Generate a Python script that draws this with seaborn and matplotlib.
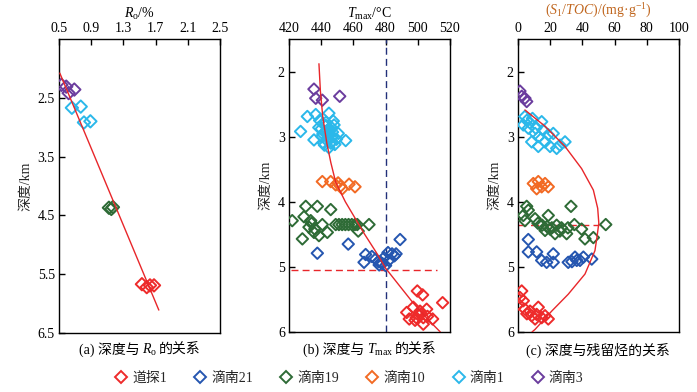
import numpy as np
import pandas as pd
import matplotlib
matplotlib.use("Agg")
import matplotlib.pyplot as plt
from matplotlib.lines import Line2D
from matplotlib.offsetbox import TextArea, HPacker, AnnotationBbox
import seaborn as sns

# ---------------- data ----------------
wells = ["道探1", "滴南21", "滴南19", "滴南10", "滴南1", "滴南3"]
well_colors = ["#ee2b2b", "#2556b0", "#2e6b36", "#f26a24", "#2bb8ea", "#6b3d9e"]

# panel a: Ro (%) vs depth (km)
a_well = ["滴南3"] * 4 + ["滴南1"] * 4 + ["滴南19"] * 3 + ["道探1"] * 4
a_ro = [0.53, 0.59, 0.62, 0.69, 0.66, 0.77, 0.81, 0.89, 1.12, 1.15, 1.17, 1.53, 1.59, 1.63, 1.68]
a_depth = [2.28, 2.31, 2.42, 2.36, 2.67, 2.65, 2.92, 2.90, 4.37, 4.39, 4.36, 5.67, 5.72, 5.69, 5.69]
a_fit_ro = [0.51, 1.74]
a_fit_depth = [2.08, 6.11]

# panel b: Tmax (°C) vs depth (km)
b_purple_t = [435.5, 436.6, 440.7, 451.5]
b_purple_d = [2.27, 2.41, 2.44, 2.38]
b_cyan_t = [431.4, 427.2, 435.5, 436.6, 444.8, 455.2, 450.6, 439.0, 441.0, 443.0, 446.0, 448.0,
            440.0, 442.5, 445.0, 447.0, 444.0, 446.5, 441.5, 448.5, 449.5, 438.5, 443.5, 445.5,
            444.8, 442.0, 447.5, 440.5, 443.0, 445.0, 441.0, 447.0, 444.0, 446.0]
b_cyan_d = [2.69, 2.92, 3.05, 2.66, 2.64, 3.06, 2.95, 2.75, 2.80, 2.78, 2.85, 2.82,
            2.88, 2.92, 2.95, 3.00, 3.02, 3.08, 3.10, 3.12, 3.04, 2.86, 2.97, 2.90,
            3.17, 3.13, 2.76, 3.00, 2.83, 2.88, 2.96, 2.93, 3.07, 3.10]
b_orange_t = [440.7, 445.9, 449.0, 452.0, 457.3, 461.0, 453.1, 450.5]
b_orange_d = [3.69, 3.69, 3.74, 3.76, 3.73, 3.77, 3.80, 3.71]
b_green_t = [422.0, 430.4, 437.6, 445.9, 429.3, 433.5, 440.7, 432.4, 435.5, 428.3, 443.8, 438.6,
             436.0, 449.0, 451.0, 453.0, 455.0, 457.0, 459.0, 461.0, 462.4, 469.7, 463.0, 434.0]
b_green_d = [4.29, 4.07, 4.07, 4.12, 4.23, 4.29, 4.35, 4.39, 4.47, 4.57, 4.47, 4.52,
             4.42, 4.35, 4.35, 4.35, 4.35, 4.35, 4.35, 4.35, 4.35, 4.35, 4.45, 4.33]
b_blue_t = [437.6, 456.8, 489.0, 467.6, 466.6, 484.0, 480.0, 473.8, 477.0, 471.5, 475.5, 479.0,
            482.0, 485.5, 478.0, 481.5, 486.5, 476.0]
b_blue_d = [4.79, 4.65, 4.58, 4.81, 4.93, 4.80, 4.98, 4.88, 4.93, 4.84, 4.92, 4.86,
            4.90, 4.83, 4.95, 4.78, 4.80, 4.97]
b_red_t = [499.7, 503.0, 515.4, 493.1, 494.7, 503.4, 509.2, 503.4, 498.3, 501.4, 505.5, 497.2,
           500.5, 502.0, 506.0, 499.0]
b_red_d = [5.37, 5.43, 5.55, 5.70, 5.80, 5.78, 5.80, 5.88, 5.82, 5.68, 5.65, 5.62,
           5.74, 5.72, 5.76, 5.78]
b_fit_t = [438.6, 439.5, 441.0, 443.5, 446.0, 449.0, 455.0, 461.0, 467.0, 474.0, 480.0, 488.0,
           497.0, 506.0, 514.0]
b_fit_d = [1.88, 2.30, 2.70, 3.10, 3.40, 3.70, 4.00, 4.25, 4.50, 4.77, 5.02, 5.27,
           5.55, 5.80, 6.00]
b_vline_t = 480
b_hline_d = 5.05
b_hline_t = [421, 512]

# panel c: S1/TOC (mg/g) vs depth (km)
c_purple_s = [1.2, 4.3, 2.3, 5.4]
c_purple_d = [2.30, 2.41, 2.38, 2.46]
c_cyan_s = [4.3, 3.3, 7.5, 14.7, 8.5, 12.6, 18.8, 21.9, 24.0, 29.2, 16.8, 10.6, 6.4, 11.0,
            26.1, 19.9, 9.0, 13.0, 15.5, 5.5]
c_cyan_d = [2.69, 2.82, 2.79, 2.77, 3.08, 3.15, 2.97, 2.95, 3.18, 3.08, 3.08, 2.95, 2.87, 2.87,
            3.13, 3.15, 2.72, 3.00, 2.90, 2.75]
c_orange_s = [9.5, 12.6, 14.7, 18.8, 11.6, 16.8]
c_orange_d = [3.72, 3.69, 3.77, 3.77, 3.80, 3.72]
c_green_s = [5.4, 6.4, 3.3, 4.3, 10.6, 18.8, 32.9, 35.0, 54.5, 41.6, 46.8, 30.2, 23.0, 16.8,
             39.5, 12.4, 15.0, 18.0, 21.0, 24.0, 27.0, 20.0, 26.0, 31.0]
c_green_d = [4.07, 4.13, 4.21, 4.29, 4.26, 4.21, 4.07, 4.35, 4.35, 4.57, 4.55, 4.49, 4.49, 4.44,
             4.42, 4.33, 4.36, 4.38, 4.40, 4.36, 4.40, 4.42, 4.45, 4.40]
c_blue_s = [6.4, 6.4, 11.6, 14.7, 21.9, 21.9, 17.8, 31.2, 36.5, 35.4, 40.6, 45.8, 38.5, 33.5]
c_blue_d = [4.58, 4.77, 4.77, 4.90, 4.80, 4.93, 4.93, 4.93, 4.90, 4.85, 4.85, 4.88, 4.90, 4.92]
c_red_s = [2.3, 1.2, 3.3, 0.2, 4.3, 7.5, 12.6, 11.6, 8.5, 16.8, 18.8, 5.5, 14.7, 10.6]
c_red_d = [5.37, 5.47, 5.52, 5.57, 5.65, 5.68, 5.62, 5.73, 5.75, 5.75, 5.80, 5.72, 5.78, 5.80]
c_fit_s = [4.3, 16.8, 29.2, 39.5, 46.8, 49.5, 50.2, 49.0, 47.8, 41.6, 31.2, 20.9, 10.6, 8.7]
c_fit_d = [2.59, 2.84, 3.15, 3.49, 3.82, 4.10, 4.33, 4.55, 4.75, 5.11, 5.42, 5.68, 5.96, 6.00]
c_hline_d = 4.35
c_hline_s = [0, 50]

# ---------------- style ----------------
sns.set_theme(style="ticks")
FAM = ["Liberation Serif", "Noto Sans CJK SC"]
plt.rcParams["font.family"] = FAM
plt.rcParams["mathtext.fontset"] = "custom"
plt.rcParams["mathtext.rm"] = "Liberation Serif"
plt.rcParams["mathtext.it"] = "Liberation Serif:italic"
plt.rcParams["axes.unicode_minus"] = False

fig = plt.figure(figsize=(6.97, 3.92), dpi=100)
W, H = 697, 392

def make_ax(l, r, t, b):
    return fig.add_axes([l / W, 1 - b / H, (r - l) / W, (b - t) / H])

ax_a = make_ax(59, 220, 39, 333)
ax_b = make_ax(289, 450, 39, 332)
ax_c = make_ax(518, 679, 39, 332)

cmap = dict(zip(wells, well_colors))
MS = 34
LW = 1.4

def scat(ax, xs, ys, well, s=MS):
    c = cmap[well]
    sns.scatterplot(x=xs, y=ys, ax=ax, marker="D", s=s, color=c, facecolor="none",
                    edgecolor=c, linewidth=LW, legend=False, zorder=3)

# panel a
df_a = pd.DataFrame({"ro": a_ro, "depth": a_depth, "well": a_well})
for w in ["滴南3", "滴南1", "滴南19", "道探1"]:
    sub = df_a[df_a.well == w]
    scat(ax_a, sub.ro.values, sub.depth.values, w, s=40)
sns.lineplot(x=a_fit_ro, y=a_fit_depth, ax=ax_a, color="#e8262a", lw=1.0, sort=False,
             estimator=None, zorder=4)

# panel b
for xs, ys, w in [(b_purple_t, b_purple_d, "滴南3"), (b_cyan_t, b_cyan_d, "滴南1"),
                  (b_orange_t, b_orange_d, "滴南10"), (b_green_t, b_green_d, "滴南19"),
                  (b_blue_t, b_blue_d, "滴南21"), (b_red_t, b_red_d, "道探1")]:
    scat(ax_b, xs, ys, w)
sns.lineplot(x=b_fit_t, y=b_fit_d, ax=ax_b, color="#e8262a", lw=1.0, sort=False,
             estimator=None, zorder=4)
ax_b.axvline(b_vline_t, color="#22307a", lw=1.0, ls=(0, (5, 3)), zorder=2)
sns.lineplot(x=b_hline_t, y=[b_hline_d, b_hline_d], ax=ax_b, color="#e8262a", lw=1.0,
             linestyle=(0, (5, 3)), sort=False, estimator=None, zorder=2)

# panel c
for xs, ys, w in [(c_purple_s, c_purple_d, "滴南3"), (c_cyan_s, c_cyan_d, "滴南1"),
                  (c_orange_s, c_orange_d, "滴南10"), (c_green_s, c_green_d, "滴南19"),
                  (c_blue_s, c_blue_d, "滴南21"), (c_red_s, c_red_d, "道探1")]:
    scat(ax_c, xs, ys, w)
sns.lineplot(x=c_fit_s, y=c_fit_d, ax=ax_c, color="#e8262a", lw=1.0, sort=False,
             estimator=None, zorder=4)
sns.lineplot(x=c_hline_s, y=[c_hline_d, c_hline_d], ax=ax_c, color="#e8262a", lw=1.0,
             linestyle=(0, (6, 3)), sort=False, estimator=None, zorder=2)

# axes formatting
def fmt(ax, xlim, xticks, xtl, ylim, yticks, ytl, xlabel, xlabel_color="black", lp=3):
    ax.set_xlim(*xlim)
    ax.set_ylim(*ylim)
    ax.set_xticks(xticks)
    ax.set_xticklabels(xtl)
    ax.set_yticks(yticks)
    ax.set_yticklabels(ytl)
    ax.xaxis.tick_top()
    ax.xaxis.set_label_position("top")
    ax.tick_params(axis="both", direction="in", length=4, width=1, labelsize=10,
                   pad=3, colors="black")
    ax.tick_params(axis="x", pad=3)
    for sp in ax.spines.values():
        sp.set_visible(True)
        sp.set_linewidth(1.0)
        sp.set_color("black")
    ax.set_xlabel(xlabel, fontsize=10, color=xlabel_color, labelpad=lp)
    ax.set_ylabel("深度/km", fontsize=10, labelpad=4)
    ax.grid(False)
    ax.set_facecolor("white")

fmt(ax_a, (0.5, 2.5), [0.5, 0.9, 1.3, 1.7, 2.1, 2.5],
    ["0.5", "0.9", "1.3", "1.7", "2.1", "2.5"],
    (6.5, 1.5), [2.5, 3.5, 4.5, 5.5, 6.5], ["2.5", "3.5", "4.5", "5.5", "6.5"],
    r"$R_\mathrm{o}$/%")
fmt(ax_b, (420, 520), [420, 440, 460, 480, 500, 520],
    ["420", "440", "460", "480", "500", "520"],
    (6, 1.5), [2, 3, 4, 5, 6], ["2", "3", "4", "5", "6"],
    r"$T_\mathrm{max}$/°C")
fmt(ax_c, (0, 100), [0, 20, 40, 60, 80, 100],
    ["0", "20", "40", "60", "80", "100"],
    (6, 1.5), [2, 3, 4, 5, 6], ["2", "3", "4", "5", "6"],
    r"($S_1$/$TOC$)/(mg·g$^{-1}$)", xlabel_color="#c0661e", lp=5)

# sub captions (mix of CJK text and math pieces)
tp = dict(fontsize=10, family=FAM, color="black")
caps = [(140, ["(a) 深度与", r"$R_\mathrm{o}$", "的关系"]),
        (370, ["(b) 深度与", r"$T_\mathrm{max}$", "的关系"]),
        (598, ["(c) 深度与残留烃的关系"])]
for x, parts in caps:
    box = HPacker(children=[TextArea(p, textprops=tp) for p in parts],
                  align="baseline", pad=0, sep=1.5)
    ab = AnnotationBbox(box, (x / W, 1 - 350 / H), xycoords="figure fraction",
                        frameon=False, box_alignment=(0.5, 0.5), pad=0)
    fig.add_artist(ab)

# legend
handles = [Line2D([], [], marker="D", ls="none", markersize=6.5, markerfacecolor="none",
                  markeredgecolor=c, markeredgewidth=1.4, label=w)
           for w, c in zip(wells, well_colors)]
fig.legend(handles=handles, loc="center", bbox_to_anchor=(348 / W, 1 - 378 / H), ncol=6,
           frameon=False, fontsize=10, handletextpad=0.2, columnspacing=1.8,
           handlelength=1.2, borderaxespad=0)

fig.savefig("out.png", dpi=100, facecolor="white")
